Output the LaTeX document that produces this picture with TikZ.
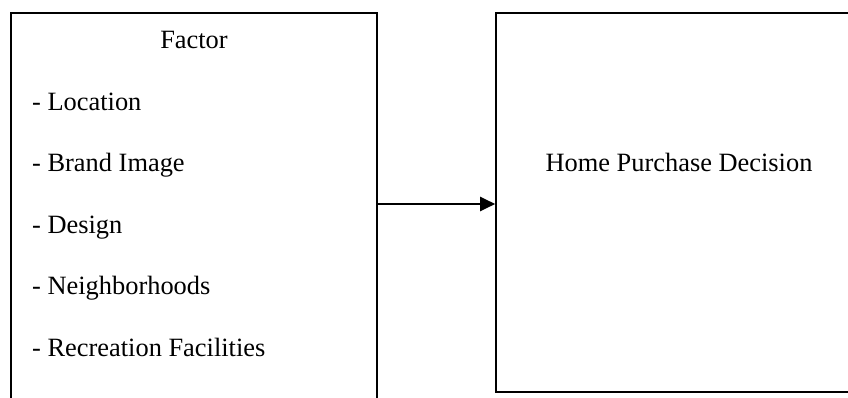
\documentclass[tikz,border=0pt]{standalone}
\usepackage{fontspec}
\setmainfont{Liberation Serif}
\usetikzlibrary{arrows.meta}
\begin{document}
\begin{tikzpicture}[x=1pt,y=1pt,
  boxstyle/.style={draw,line width=1.6pt,rectangle,inner sep=0pt},
  itemtext/.style={anchor=base west,inner sep=0pt,font=\fontsize{26.4}{30}\selectfont},
  titletext/.style={anchor=base,inner sep=0pt,font=\fontsize{26.4}{30}\selectfont},
  link/.style={line width=2pt,-{Triangle[length=15pt,width=14pt]}}]
\useasboundingbox (0,0) rectangle (848,398);
\clip (0,0) rectangle (848,398);
\node[boxstyle,minimum width=366pt,minimum height=405pt] (leftbox) at (194,182.5) {};
\node[boxstyle,minimum width=366pt,minimum height=379pt] (rightbox) at (679,195.5) {};
\node[titletext] (factor) at (194,349) {Factor};
\node[itemtext] (loc) at (32,287.5) {- Location};
\node[itemtext] (brand) at (32,226) {- Brand Image};
\node[itemtext] (design) at (32,164.5) {- Design};
\node[itemtext] (neigh) at (32,103) {- Neighborhoods};
\node[itemtext] (recr) at (32,41.5) {- Recreation Facilities};
\node[titletext] (hpd) at (679,226) {Home Purchase Decision};
\coordinate (arrowy) at (0,194);
\draw[link] (leftbox.east |- arrowy) -- (rightbox.west |- arrowy);
\end{tikzpicture}
\end{document}
